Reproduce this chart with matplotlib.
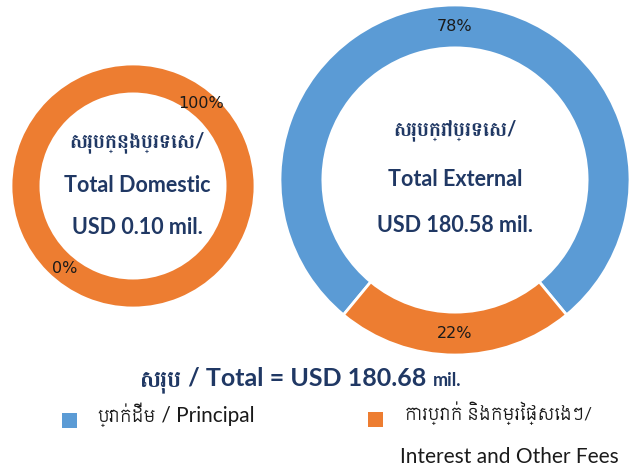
import matplotlib
matplotlib.use("Agg")
import numpy as np
import matplotlib.pyplot as plt

# --- data ---
series_colors = ["#5B9BD5", "#ED7D31"]
domestic_pct = [0, 100]
external_pct = [78, 22]
domestic_lines = ["សរុបក្នុងប្រទេស/", "Total Domestic", "USD 0.10 mil."]
external_lines = ["សរុបក្រៅប្រទេស/", "Total External", "USD 180.58 mil."]
total_pieces = ["សរុប", " / Total = USD 180.68 ", "mil."]
principal_pieces = ["ប្រាក់ដើម", " / Principal"]
interest_km = "ការប្រាក់ និងកម្រៃផ្សេងៗ/"
interest_en = "Interest and Other Fees"

NAVY = "#203864"
# Lato for latin, a Khmer family picks up the rest (Battambang has a bold cut)
fam = ["Lato", "Siemreap", "DejaVu Sans"]
fam_bold = ["Lato", "Battambang", "DejaVu Sans"]

W, H = 635, 468
fig = plt.figure(figsize=(W / 100, H / 100), dpi=100)
ax = fig.add_axes([0, 0, 1, 1])

START = 230.4  # same first-slice angle for both rings
RING = 0.245


def donut(vals, cx, cy, r):
    wedges, _ = ax.pie(vals, colors=series_colors, center=(cx, H - cy), radius=r,
                       startangle=START, counterclock=False,
                       wedgeprops=dict(width=r * RING, edgecolor="white", linewidth=2))
    for w, v in zip(wedges, vals):
        mid = np.deg2rad((w.theta1 + w.theta2) / 2)
        rr = r * (1 - RING / 2)
        ax.text(cx + rr * np.cos(mid), H - cy + rr * np.sin(mid), f"{v}%",
                ha="center", va="center", fontsize=11.5, color="#1a1a1a",
                family="DejaVu Sans")


donut(domestic_pct, 133, 186, 122)
donut(external_pct, 455, 180, 175)

# pie() resets the limits, so set them afterwards
ax.set_xlim(0, W)
ax.set_ylim(0, H)
ax.set_aspect("equal")
ax.axis("off")

for lines, cx, ys in [(domestic_lines, 137, [142, 186, 228]),
                      (external_lines, 455, [130, 179, 226])]:
    for i, (t, y) in enumerate(zip(lines, ys)):
        ax.text(cx, H - y, t, ha="center", va="center",
                fontsize=14.5 if i == 0 else 15.5,
                fontweight="bold", color=NAVY, family=fam_bold)

renderer = fig.canvas.get_renderer()


def text_run(x, y, pieces, sizes, family, **kw):
    # several pieces on one baseline, each one after the previous
    for s, fs in zip(pieces, sizes):
        t = ax.text(x, y, s, ha="left", va="baseline", fontsize=fs, family=family, **kw)
        bb = t.get_window_extent(renderer)
        x = ax.transData.inverted().transform((bb.x1, bb.y0))[0]


text_run(140, H - 386, total_pieces, [17, 18, 13], fam_bold,
         fontweight="bold", color=NAVY)

# legend
ax.add_patch(plt.Rectangle((62, H - 428), 15, 15, color=series_colors[0], lw=0))
ax.add_patch(plt.Rectangle((368, H - 427), 15, 15, color=series_colors[1], lw=0))
text_run(98, H - 422, principal_pieces, [12.5, 15], fam, color="#1a1a1a")
ax.text(405, H - 413, interest_km, ha="left", va="center", fontsize=12.5,
        color="#1a1a1a", family=fam)
ax.text(619, H - 457, interest_en, ha="right", va="center", fontsize=15,
        color="#1a1a1a", family=fam)

fig.savefig("out.png", dpi=100)
